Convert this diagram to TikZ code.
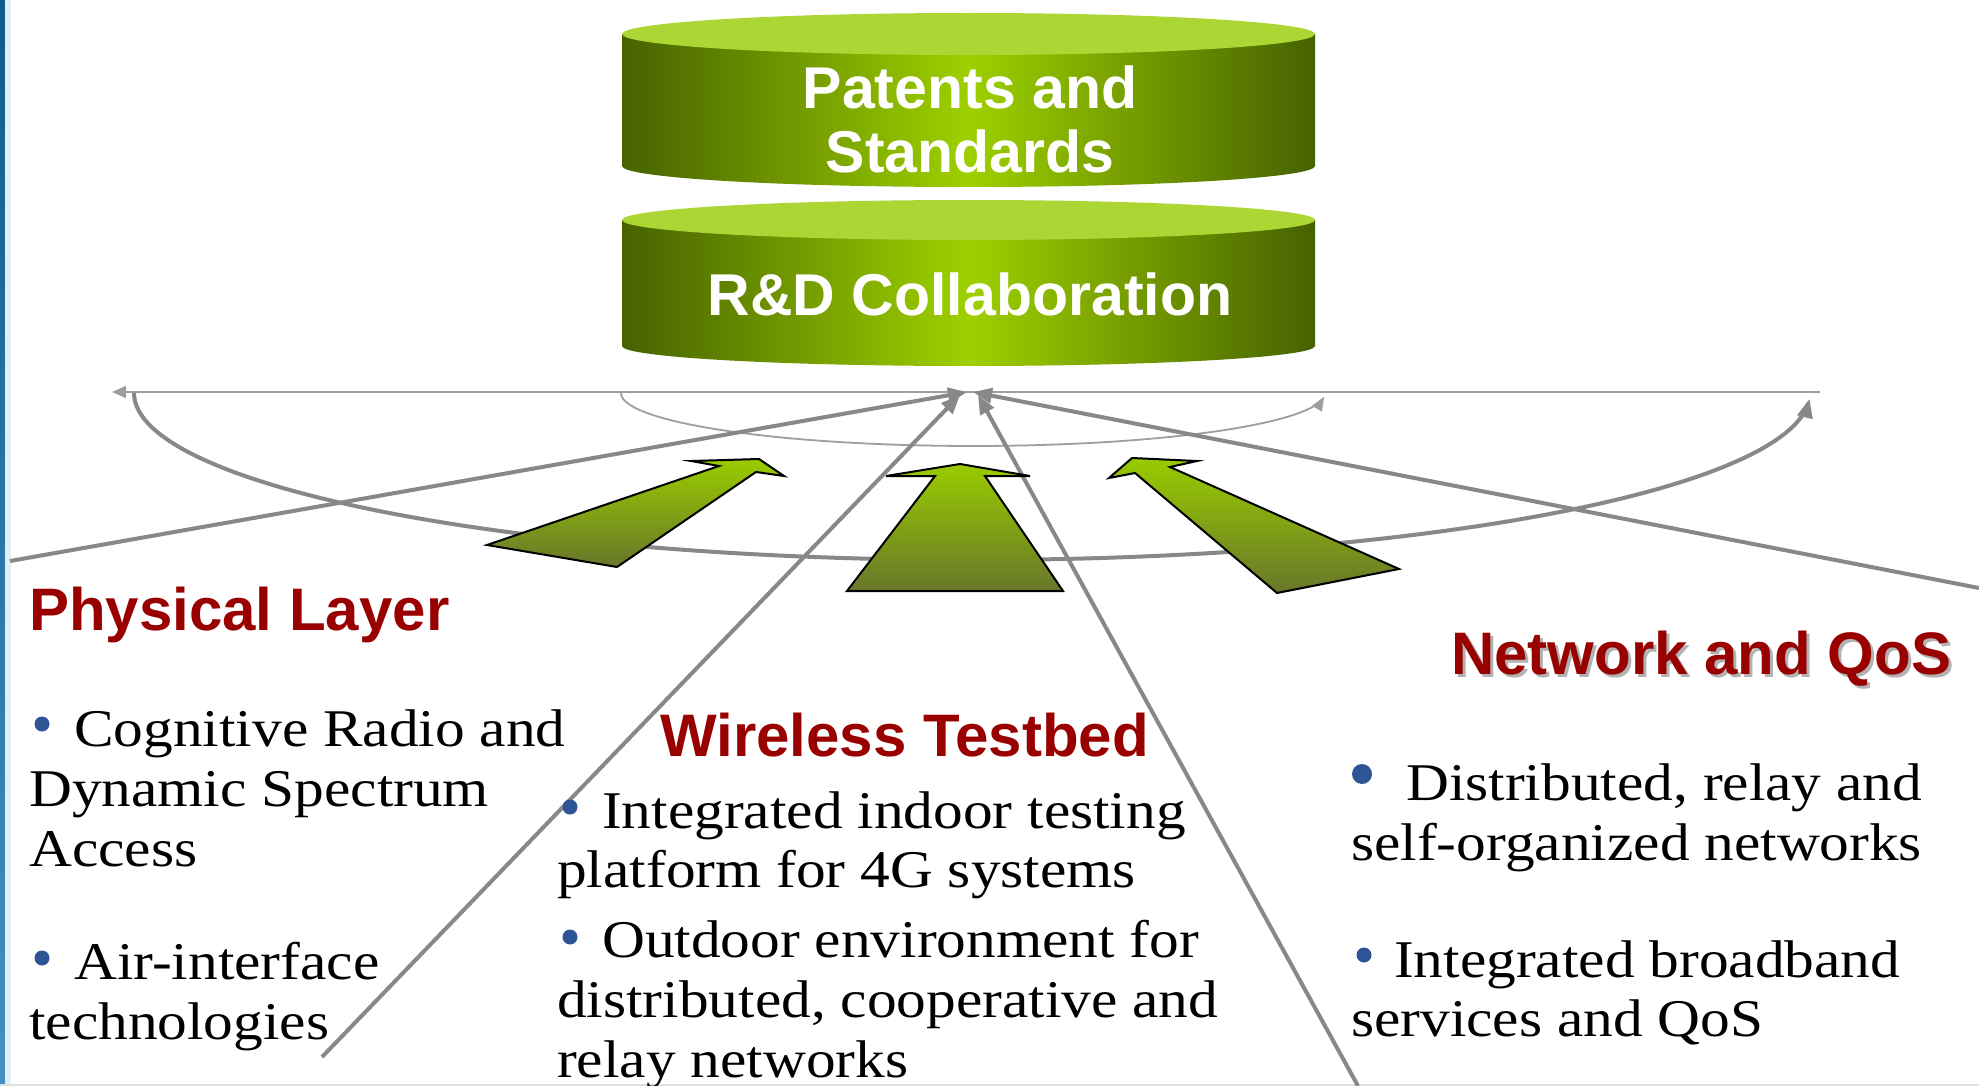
\documentclass[tikz,border=0pt]{standalone}
\usepackage{fontspec}
\setmainfont{Liberation Serif}
\newfontfamily\headfont{Liberation Sans}
\newfontfamily\bodyfont[FakeStretch=1.12]{Liberation Serif}
\usetikzlibrary{arrows.meta}
\definecolor{cylDark}{RGB}{70,98,0}
\definecolor{cylLime}{RGB}{158,208,0}
\definecolor{cylTop}{RGB}{172,214,52}
\definecolor{arrTop}{RGB}{153,204,0}
\definecolor{arrBot}{RGB}{104,118,42}
\definecolor{lineGray}{RGB}{136,136,136}
\definecolor{lightGray}{RGB}{158,158,158}
\definecolor{headRed}{RGB}{153,0,0}
\definecolor{bulBlue}{RGB}{46,84,150}
\definecolor{barTop}{RGB}{16,92,145}
\definecolor{barBot}{RGB}{66,146,196}
\begin{document}
\begin{tikzpicture}[x=1pt,y=-1pt,
  conn/.style={draw=lineGray, line width=4pt, -{Triangle[length=19pt,width=15pt]}},
  thinline/.style={draw=lightGray, line width=1.8pt},
  greenarrow/.style={draw=black, line width=2pt, top color=arrTop, bottom color=arrBot, line join=miter},
  cylside/.style={left color=cylDark, right color=cylDark, middle color=cylLime},
  cyltext/.style={font=\headfont\bfseries\fontsize{59}{64}\selectfont, text=white, anchor=base, inner sep=0pt},
  head/.style={font=\headfont\bfseries\fontsize{60}{64}\selectfont, text=headRed, anchor=base west, inner sep=0pt},
  body/.style={font=\bodyfont\fontsize{53}{60}\selectfont, anchor=base west, inner sep=0pt},
  bul/.style={circle, fill=bulBlue, inner sep=0pt, minimum size=15pt}]
\useasboundingbox (0,0) rectangle (1979,1086);
\fill[white] (0,0) rectangle (1979,1086);
% left bar and bottom edge
\shade[top color=barTop, bottom color=barBot] (0,0) rectangle (5,1086);
\fill[barBot!15] (5,0) rectangle (11,1086);
\draw[gray!25, line width=1.5pt] (0,1085) -- (1979,1085);

% cylinders
\shade[cylside] (622,34) -- (622,166) .. controls (622,177.6) and (777.1,187) .. (968.5,187) .. controls (1159.9,187) and (1315,177.6) .. (1315,166) -- (1315,34) -- cycle;
\fill[cylTop] (968.5,34) ellipse [x radius=346.5, y radius=21];
\shade[cylside] (622,220) -- (622,346) .. controls (622,357) and (777.1,366) .. (968.5,366) .. controls (1159.9,366) and (1315,357) .. (1315,346) -- (1315,220) -- cycle;
\fill[cylTop] (968.5,220) ellipse [x radius=346.5, y radius=20];
\node[cyltext] (pat1) at (970,109) {Patents and};
\node[cyltext] (pat2) at (970,173) {Standards};
\node[cyltext] (rnd) at (970,315) {R\&D Collaboration};

% horizontal line and arcs
\coordinate (hR) at (1820,392);
\coordinate (hL) at (112,392);
\draw[thinline, -{Triangle[length=14pt,width=12pt]}] (hR) -- (hL);
\draw[thinline, -{Triangle[length=14pt,width=11pt]}] plot[domain=180:4, samples=80] ({973+352*cos(\x)},{393+53*sin(\x)});
\draw[draw=lineGray, line width=4pt, -{Triangle[length=19pt,width=15pt]}] plot[domain=180:2, samples=120] ({972+838*cos(\x)},{393+167*sin(\x)});

% converging connectors
\coordinate (lsStart) at (10,561);
\coordinate (lsTip) at (967,392);
\coordinate (ltStart) at (322,1057);
\coordinate (ltTip) at (960,395);
\coordinate (rtStart) at (1358,1086);
\coordinate (rtTip) at (978,395);
\coordinate (rsStart) at (1979,588);
\coordinate (rsTip) at (973,392);
\draw[conn] (lsStart) -- (lsTip);
\draw[conn] (ltStart) -- (ltTip);
\draw[conn] (rtStart) -- (rtTip);
\draw[conn] (rsStart) -- (rsTip);

% green block arrows
\path[greenarrow] (487,545) -- (719,466) -- (691,461) -- (759,459) -- (784,476) -- (756,472) -- (617,567) -- cycle;
\path[greenarrow] (847,591) -- (935,476) -- (886,476) -- (960,464) -- (1030,476) -- (985,476) -- (1063,591) -- cycle;
\path[greenarrow] (1277,593) -- (1135,473) -- (1109,478) -- (1132,458) -- (1197,461) -- (1170,467) -- (1399,569) -- cycle;

% headings
\node[head] (phy) at (29,630) {Physical Layer};
\node[head] (wt) at (660,756) {Wireless Testbed};
\node[head, text=black!30] (nqshadow) at (1454,677) {Network and QoS};
\node[head] (nq) at (1451,674) {Network and QoS};

% left column
\node[bul] (b1) at (42,724) {};
\node[body] (l1) at (74,746) {Cognitive Radio and};
\node[body] (l2) at (29,806) {Dynamic Spectrum};
\node[body] (l3) at (29,866) {Access};
\node[bul] (b2) at (42,958) {};
\node[body] (l4) at (74,979) {Air-interface};
\node[body] (l5) at (29,1039) {technologies};

% middle column
\node[bul] (b3) at (570,807) {};
\node[body] (m1) at (602,828) {Integrated indoor testing};
\node[body] (m2) at (557,887) {platform for 4G systems};
\node[bul] (b4) at (570,937) {};
\node[body] (m3) at (602,957) {Outdoor environment for};
\node[body] (m4) at (557,1017) {distributed, cooperative and};
\node[body] (m5) at (557,1077) {relay networks};

% right column
\node[bul, minimum size=20pt] (b5) at (1362,774) {};
\node[body] (r1) at (1406,800) {Distributed, relay and};
\node[body] (r2) at (1351,860) {self-organized networks};
\node[bul] (b6) at (1364,955) {};
\node[body] (r3) at (1394,977) {Integrated broadband};
\node[body] (r4) at (1351,1036) {services and QoS};
\end{tikzpicture}
\end{document}
